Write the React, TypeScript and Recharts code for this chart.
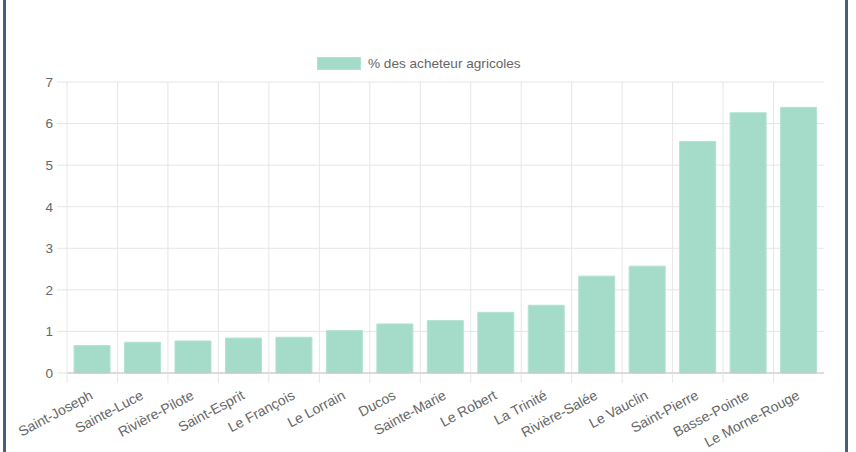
import React from 'react';
import { BarChart, Bar, XAxis, YAxis, CartesianGrid } from 'recharts';

const seriesName = '% des acheteur agricoles';
const communes = [
  'Saint-Joseph', 'Sainte-Luce', 'Rivière-Pilote', 'Saint-Esprit', 'Le François',
  'Le Lorrain', 'Ducos', 'Sainte-Marie', 'Le Robert', 'La Trinité',
  'Rivière-Salée', 'Le Vauclin', 'Saint-Pierre', 'Basse-Pointe', 'Le Morne-Rouge',
];
const values = [0.66, 0.74, 0.77, 0.84, 0.86, 1.02, 1.18, 1.26, 1.46, 1.63, 2.33, 2.57, 5.57, 6.26, 6.39];
const yTicks = [0, 1, 2, 3, 4, 5, 6, 7];

const data = communes.map((c, i) => ({ commune: c, value: values[i] }));

const FONT = '"Liberation Sans", Arial, Helvetica, sans-serif';
const GRID = '#e6e6e6';
const BAR = '#a5dbc9';

const XTick = (props: any) => {
  const { x, y, payload } = props;
  const half = payload.offset ?? 0;
  const tx = x;
  const ty = y + 22;
  return (
    <g>
      <line x1={x - half} x2={x - half} y1={y} y2={y + 10} stroke={GRID} />
      <text
        x={tx}
        y={ty}
        textAnchor="end"
        dominantBaseline="middle"
        transform={`rotate(-28 ${tx} ${ty})`}
        fill="#666"
        fontSize={14}
        fontFamily={FONT}
      >
        {payload.value}
      </text>
    </g>
  );
};

export default function App() {
  return (
    <div style={{ position: 'absolute', left: 0, top: 0, width: 856, height: 452, background: '#fff', overflow: 'hidden' }}>
      <div style={{ position: 'absolute', left: 3, top: 0, width: 3, height: 452, background: '#4b5d78' }} />
      <div style={{ position: 'absolute', left: 845, top: 0, width: 3, height: 452, background: '#4b5d78' }} />
      <div style={{ position: 'absolute', left: 317, top: 57, display: 'flex', alignItems: 'center', fontFamily: FONT, fontSize: 13.6, color: '#666' }}>
        <div style={{ width: 42, height: 11, background: BAR, border: '1px solid #b3e2d4' }} />
        <span style={{ marginLeft: 7, lineHeight: '13px' }}>{seriesName}</span>
      </div>
      <BarChart
        width={856}
        height={452}
        data={data}
        margin={{ top: 82, right: 32, bottom: 0, left: 0 }}
        barCategoryGap="14%"
        style={{ position: 'absolute', left: 0, top: 0 }}
      >
        <CartesianGrid
          stroke={GRID}
          verticalCoordinatesGenerator={({ offset }: any) =>
            communes.map((_, i) => offset.left + (i * offset.width) / communes.length)
          }
        />
        <XAxis
          dataKey="commune"
          interval={0}
          height={79}
          tickLine={false}
          tickSize={0}
          tickMargin={0}
          axisLine={{ stroke: '#c4c4c4' }}
          tick={<XTick />}
        />
        <YAxis
          width={67}
          domain={[0, 7]}
          ticks={yTicks}
          axisLine={false}
          tickLine={{ stroke: GRID }}
          tickSize={10}
          tickMargin={4}
          tick={{ fill: '#666', fontSize: 13.5, fontFamily: FONT }}
        />
        <Bar dataKey="value" name={seriesName} fill={BAR} stroke="#b3e2d4" strokeWidth={1} isAnimationActive={false} />
      </BarChart>
    </div>
  );
}
